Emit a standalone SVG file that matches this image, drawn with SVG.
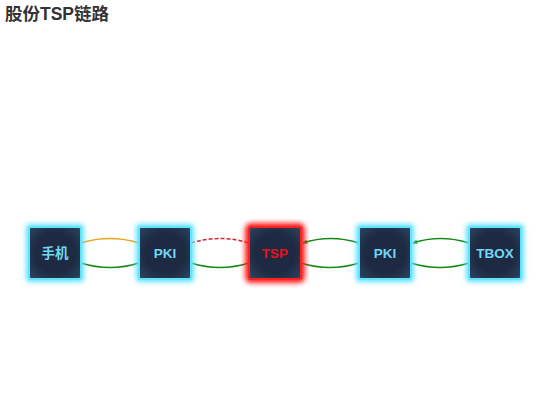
<svg xmlns="http://www.w3.org/2000/svg" width="550" height="420" viewBox="0 0 550 420">
<style>
.title{font-family:"Liberation Sans","Noto Sans CJK SC",sans-serif;font-size:17.5px;font-weight:bold;fill:#333}
.lbl{font-family:"Liberation Sans","Noto Sans CJK SC",sans-serif;font-size:13.5px;font-weight:bold;fill:#70d8f4;text-anchor:middle;dominant-baseline:central}
.lbl.red{fill:#e5141b}
.glow{fill:#5fe3ff;filter:url(#blur)}
.glow.red{fill:#ff1a1a}
.box{fill:url(#inner);stroke:#5fe3ff;stroke-width:2}
.box.red{stroke:#ff2020}
.e{fill:none;stroke-width:1.5}
.g{stroke:#158a15}
.o{stroke:#eea320}
.r{stroke:#d9232e;stroke-dasharray:4 2}
</style>
<defs>
<filter id="blur" x="-30%" y="-30%" width="160%" height="160%"><feGaussianBlur stdDeviation="2.8"/></filter>
<radialGradient id="inner" cx="50%" cy="50%" r="70%">
<stop offset="0.55" stop-color="#1d2a42"/>
<stop offset="1" stop-color="#2e4560"/>
</radialGradient>
<marker id="ag" viewBox="0 0 10 10" refX="8" refY="5" markerWidth="3.5" markerHeight="3.5" orient="auto">
<path d="M0,1 L10,5 L0,9 Z" fill="#158a15"/>
</marker>
</defs>
<text class="title" x="5" y="20">股份TSP链路</text>
<g id="connectors">
<path class="e o" d="M81,243 Q110,234 139,243"/>
<path class="e g" d="M81,263 Q110,272 139,263"/>
<path class="e r" d="M191,243 Q220,234 249,243"/>
<path class="e g" d="M191,263 Q220,272 249,263"/>
<path class="e g" d="M359,243 Q330,234 303,243" marker-end="url(#ag)"/>
<path class="e g" d="M301,263 Q330,272 359,263"/>
<path class="e g" d="M469,243 Q440,234 413,243" marker-end="url(#ag)"/>
<path class="e g" d="M411,263 Q440,272 469,263"/>
</g>
<g id="node-phone">
<rect class="glow" x="26" y="224" width="58" height="58" rx="4"/>
<rect class="box" x="29" y="227" width="52" height="52" rx="2"/>
<text class="lbl" x="55" y="253">手机</text>
</g>
<g id="node-pki1">
<rect class="glow" x="136" y="224" width="58" height="58" rx="4"/>
<rect class="box" x="139" y="227" width="52" height="52" rx="2"/>
<text class="lbl" x="165" y="253">PKI</text>
</g>
<g id="node-tsp">
<rect class="glow red" x="245" y="223" width="60" height="60" rx="6"/>
<rect class="box red" x="249" y="227" width="52" height="52" rx="2"/>
<text class="lbl red" x="275" y="253">TSP</text>
</g>
<g id="node-pki2">
<rect class="glow" x="356" y="224" width="58" height="58" rx="4"/>
<rect class="box" x="359" y="227" width="52" height="52" rx="2"/>
<text class="lbl" x="385" y="253">PKI</text>
</g>
<g id="node-tbox">
<rect class="glow" x="466" y="224" width="58" height="58" rx="4"/>
<rect class="box" x="469" y="227" width="52" height="52" rx="2"/>
<text class="lbl" x="495" y="253">TBOX</text>
</g>
</svg>
